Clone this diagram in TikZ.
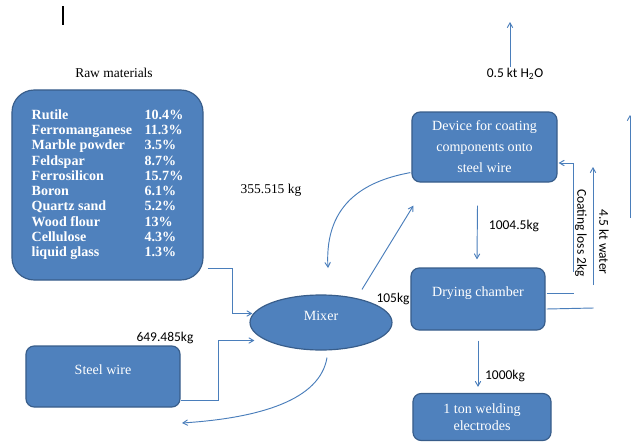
\documentclass[tikz,border=0pt]{standalone}
\usepackage{fontspec}
\setmainfont{Liberation Serif}
\newfontfamily\calibri{Carlito}
\usetikzlibrary{arrows,shapes}

\definecolor{boxblue}{HTML}{4F81BD}
\definecolor{boxedge}{HTML}{385D8A}
\definecolor{linkblue}{HTML}{4A7EBB}

\begin{document}
\begin{tikzpicture}[x=0.03cm,y=-0.03cm,
  blk/.style={draw=boxedge,fill=boxblue,line width=1pt,rounded corners=7pt,text=white,align=center,font=\fontsize{12}{16}\selectfont},
  flow/.style={draw=linkblue,line width=0.8pt,-angle 60},
  link/.style={draw=linkblue,line width=0.8pt},
  kg/.style={font=\calibri\fontsize{11.5}{13}\selectfont},
  ser/.style={font=\fontsize{11.5}{13}\selectfont}]
\useasboundingbox (0,0) rectangle (631,443);

% cursor mark
\draw[line width=1.6pt] (63,6) -- (63,25);

% boxes
\node[ser] (rawlbl) at (114,73) {Raw materials};
\node[blk,rounded corners=19pt,minimum width=5.73cm,minimum height=5.7cm] (raw) at (107.5,185) {\bfseries\fontsize{12}{13}\selectfont
  \begin{tabular}{@{}p{3.39cm}@{}l@{}}
  Rutile & 10.4\%\\
  Ferromanganese & 11.3\%\\
  Marble powder & 3.5\%\\
  Feldspar & 8.7\%\\
  Ferrosilicon & 15.7\%\\
  Boron & 6.1\%\\
  Quartz sand & 5.2\%\\
  Wood flour & 13\%\\
  Cellulose & 4.3\%\\
  liquid glass & 1.3\%
  \end{tabular}};
\node[blk,minimum width=4.62cm,minimum height=1.83cm,text depth=12pt] (steel) at (103,376.5) {Steel wire};
\node[blk,ellipse,minimum width=4.26cm,minimum height=1.65cm,inner sep=0pt,text depth=12pt] (mixer) at (321,322.5) {Mixer};
\node[blk,minimum width=4.35cm,minimum height=2.1cm,font=\fontsize{12}{18}\selectfont] (device) at (484.5,147) {Device for coating\\components onto\\steel wire};
\node[blk,minimum width=4.02cm,minimum height=1.86cm,text depth=12pt] (dry) at (478,299) {Drying chamber};
\node[blk,minimum width=4.14cm,minimum height=1.41cm,font=\fontsize{12}{14.5}\selectfont] (elec) at (482,417) {1 ton welding\\electrodes};

% mixer in and out
\draw[flow] ([shift={(4,-12)}]raw.south east) -- ++(25,0) |- ([shift={(3,-9)}]mixer.west);
\draw[flow] ([shift={(0,-7)}]steel.south east) -- ++(38,0) |- ([shift={(5,18)}]mixer.west);
\coordinate (spill) at (182,423);
\draw[flow] ([shift={(6,7)}]mixer.south) .. controls (320,400) and (260,418) .. (spill);
\coordinate (back) at (328,268);
\draw[flow] ([shift={(-1,-10)}]device.south west) .. controls (370,180) and (324,200) .. (back);
\draw[flow] ([shift={(41,-5)}]mixer.north) -- ([shift={(2,23)}]device.south west);
\node[kg] (kg105) at (393,299) {105kg};
\node[ser] (kg355) at (271,190) {355.515 kg};
\node[kg] (kg649) at (165,338) {649.485kg};

% main line
\draw[flow] ([shift={(-7,23)}]device.south) -- ([shift={(-1,-8)}]dry.north);
\node[kg] (kg1004) at (514,226) {1004.5kg};
\draw[flow] ([shift={(0,10)}]dry.south) -- ([shift={(-4,-6)}]elec.north);
\node[kg] (kg1000) at (505,376) {1000kg};

% water and losses
\node[kg] (vapour) at (515,74) {0.5 kt H\textsubscript{2}O};
\coordinate (vtop) at (510,22);
\draw[flow] ([shift={(-5,-7)}]vapour.center) -- (vtop);
\draw[link] ([shift={(1,-6)}]dry.east) -- ++(27,0);
\draw[link] ([shift={(1,10)}]dry.east) -- ++(47,-1);
\coordinate (lossfoot) at (573,272);
\draw[flow] (lossfoot) |- ([shift={(1,16)}]device.east);
\node[kg,rotate=-90] (loss) at (581,233) {Coating loss 2kg};
\coordinate (wfoot) at (593,285);
\coordinate (wtop) at (593,167);
\draw[flow] (wfoot) -- (wtop);
\node[kg,rotate=-90] (water) at (604,242) {4.5 kt water};
\coordinate (efoot) at (630,218);
\coordinate (etop) at (630,115);
\draw[flow] (efoot) -- (etop);

\end{tikzpicture}
\end{document}
